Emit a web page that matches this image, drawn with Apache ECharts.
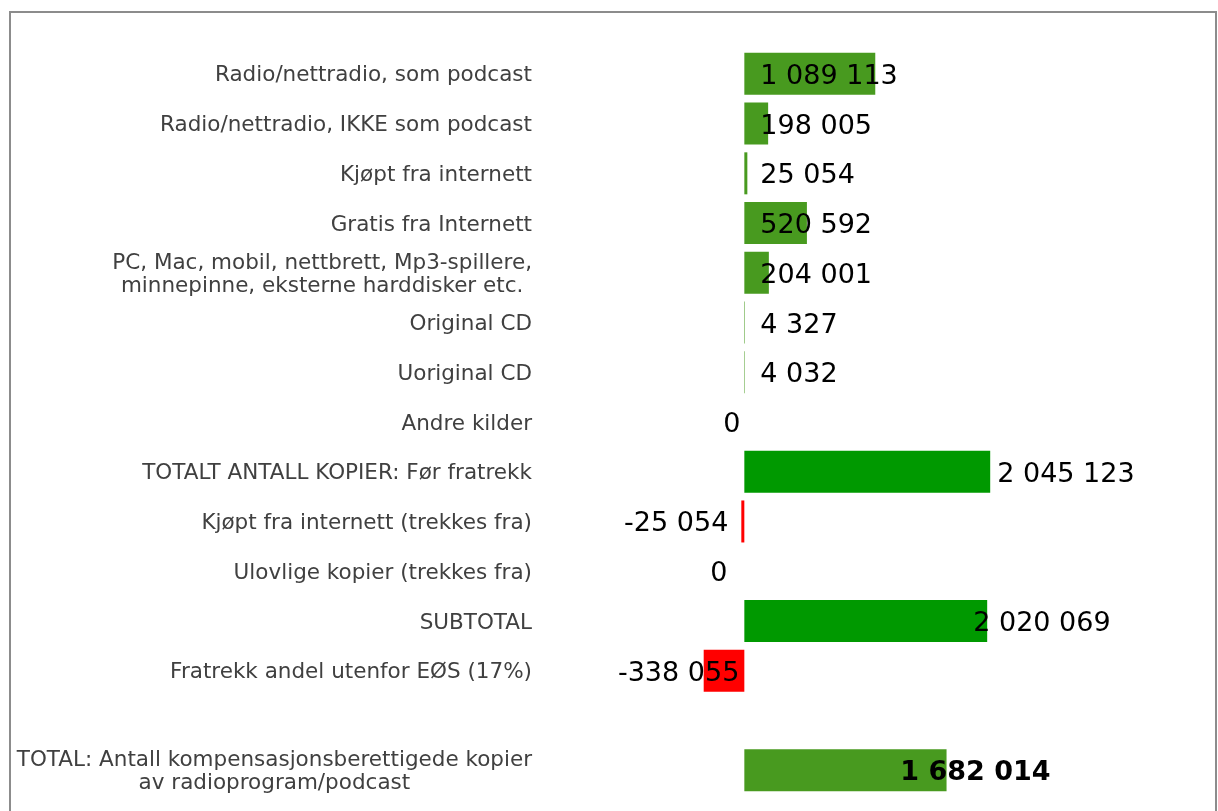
<!DOCTYPE html>
<html>
<head>
<meta charset="utf-8">
<script src="https://cdn.jsdelivr.net/npm/echarts@6/dist/echarts.min.js"></script>
<style>
  html, body { margin: 0; padding: 0; background: #fff; }
  #chart { width: 1218px; height: 811px; }
</style>
</head>
<body>
<div id="chart"></div>
<script>
// categories, top to bottom (one empty row before the grand total)
const categories = [
  'Radio/nettradio, som podcast',
  'Radio/nettradio, IKKE som podcast',
  'Kjøpt fra internett',
  'Gratis fra Internett',
  'PC, Mac, mobil, nettbrett, Mp3-spillere,\nminnepinne, eksterne harddisker etc.',
  'Original CD',
  'Uoriginal CD',
  'Andre kilder',
  'TOTALT ANTALL KOPIER: Før fratrekk',
  'Kjøpt fra internett (trekkes fra)',
  'Ulovlige kopier (trekkes fra)',
  'SUBTOTAL',
  'Fratrekk andel utenfor EØS (17%)',
  '',
  'TOTAL: Antall kompensasjonsberettigede kopier\nav radioprogram/podcast'
];

const values = [
  1089113, 198005, 25054, 520592, 204001, 4327, 4032, 0,
  2045123, -25054, 0, 2020069, -338055, null, 1682014
];

// bar kind: source rows, totals, deductions
const kinds = [
  'src', 'src', 'src', 'src', 'src', 'src', 'src', 'src',
  'sum', 'neg', 'neg', 'sum', 'neg', 'none', 'total'
];

const kindColor = {
  src: '#489a1f',
  sum: '#009900',
  neg: '#ff0000',
  total: '#489a1f',
  none: '#ffffff'
};

// where each value label sits relative to its bar
const labelPlace = [
  ['insideLeft', 16, 0], ['insideLeft', 16, 0], ['insideLeft', 16, 0],
  ['insideLeft', 16, 0], ['insideLeft', 16, 0], ['insideLeft', 16, 0],
  ['insideLeft', 16, 0], ['left', 4, 0], ['right', 7, 0],
  ['left', 13, 0], ['left', 17, 0], ['right', 0, -14],
  ['insideRight', 5, 0], ['left', 0, 0], ['insideLeft', 156, 0]
];

function fmt(v) {
  const s = String(Math.abs(v)).replace(/\B(?=(\d{3})+(?!\d))/g, ' ');
  return (v < 0 ? '-' : '') + s;
}

const seriesData = values.map((v, i) => {
  if (v === null) return '-';
  const p = labelPlace[i];
  return {
    value: v,
    itemStyle: { color: kindColor[kinds[i]] },
    label: {
      show: true,
      position: p[0],
      distance: p[1],
      offset: [p[2], 3],
      fontWeight: kinds[i] === 'total' ? 'bold' : 'normal'
    }
  };
});

const chart = echarts.init(document.getElementById('chart'), null, { renderer: 'canvas' });

chart.setOption({
  animation: false,
  backgroundColor: '#ffffff',
  graphic: [{
    type: 'rect',
    shape: { x: 10, y: 12, width: 1206, height: 830 },
    style: { fill: 'none', stroke: '#8c8c8c', lineWidth: 2 },
    silent: true
  }],
  grid: {
    left: 564,
    right: 113,
    top: 49,
    bottom: 16
  },
  xAxis: {
    type: 'value',
    min: -1500000,
    max: 3000000,
    show: false,
    splitLine: { show: false }
  },
  yAxis: {
    type: 'category',
    inverse: true,
    data: categories,
    axisLine: { show: false },
    axisTick: { show: false },
    axisLabel: {
      margin: 32,
      align: 'right',
      padding: [4, 0, 0, 0],
      // each line centred inside the right-aligned block
      formatter: s => s.split('\n').map(l => '{c|' + l + '}').join('\n'),
      rich: {
        c: {
          align: 'center',
          color: '#404040',
          fontFamily: 'DejaVu Sans',
          fontSize: 21.5,
          lineHeight: 23
        }
      }
    }
  },
  series: [{
    type: 'bar',
    barWidth: 42,
    data: seriesData,
    label: {
      show: true,
      color: '#000000',
      fontFamily: 'DejaVu Sans',
      fontSize: 27,
      formatter: p => fmt(p.value)
    }
  }]
});
</script>
</body>
</html>
